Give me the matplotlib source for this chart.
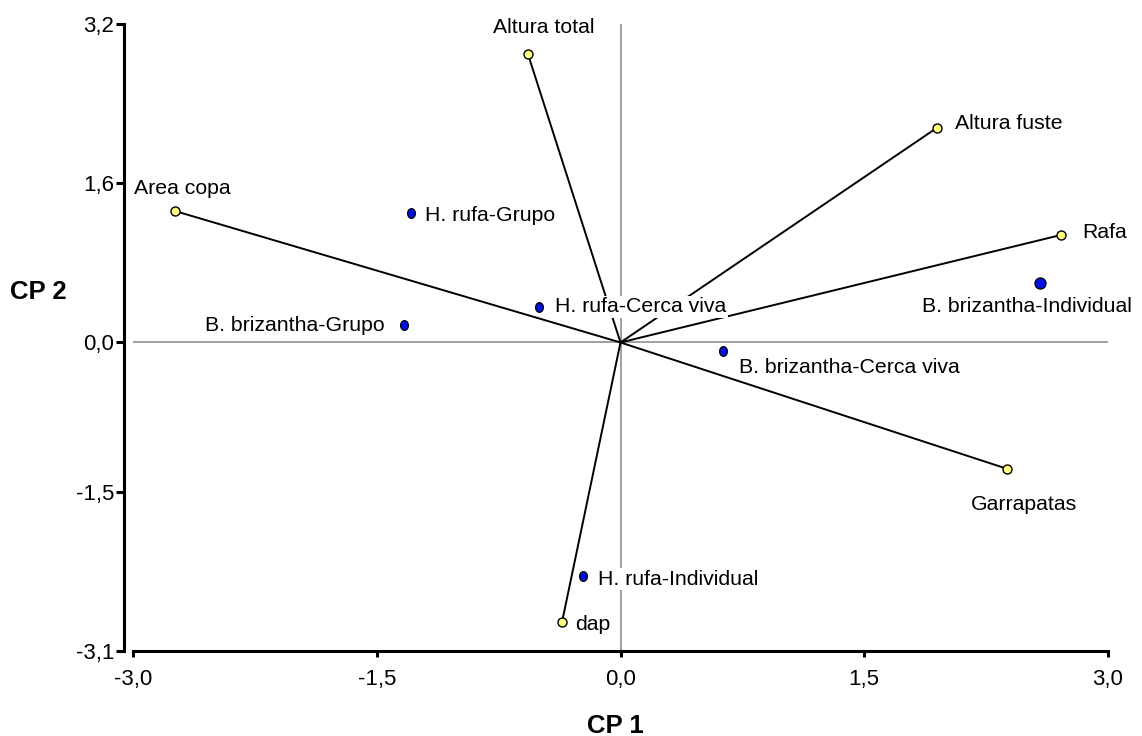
import matplotlib.pyplot as plt
from matplotlib.path import Path
from matplotlib.transforms import Affine2D

plt.rcParams['font.family'] = ['Liberation Sans', 'DejaVu Sans']

# variables (vectors drawn from the origin)
var_names = ["Altura total", "Area copa", "Altura fuste", "Rafa", "Garrapatas", "dap"]
var_x = [-0.57, -2.74, 1.95, 2.71, 2.38, -0.36]
var_y = [2.90, 1.32, 2.16, 1.08, -1.27, -2.81]

# treatments
trt_names = ["H. rufa-Grupo", "H. rufa-Cerca viva", "B. brizantha-Grupo",
             "B. brizantha-Cerca viva", "B. brizantha-Individual", "H. rufa-Individual"]
trt_x = [-1.29, -0.50, -1.33, 0.63, 2.58, -0.23]
trt_y = [1.30, 0.36, 0.18, -0.09, 0.60, -2.35]

xticks = [-3.0, -1.5, 0.0, 1.5, 3.0]
yticks = [-3.1, -1.5, 0.0, 1.6, 3.2]

# label placement (offset in pixels, horizontal alignment)
var_lab = [((16, 26), 'center'), ((7, 23), 'center'), ((18, 4), 'left'),
           ((21, 2), 'left'), ((17, -36), 'center'), ((13, -2), 'left')]
trt_lab = [((14, -2), 'left'), ((16, 0), 'left'), ((-20, -1), 'right'),
           ((16, -16), 'left'), ((-13, -24), 'center'), ((15, -3), 'left')]

fig = plt.figure(figsize=(11.42, 7.36), dpi=100)
ax = fig.add_axes([133/1142, 1 - 651/736, (1108 - 133)/1142, (651 - 24)/736])

ax.axhline(0, color='#999999', lw=1.3, zorder=1)
ax.axvline(0, color='#999999', lw=1.3, zorder=1)

for x, y in zip(var_x, var_y):
    ax.plot([0, x], [0, y], color='black', lw=1.4, zorder=2)

ax.plot(var_x, var_y, 'o', ms=6.5, mfc='#ffff80', mec='black', mew=1.0, zorder=4, ls='none')

oval = Path.unit_circle().transformed(Affine2D().scale(0.8, 1.0))
small = [i for i in range(len(trt_names)) if trt_names[i] != "B. brizantha-Individual"]
ax.plot([trt_x[i] for i in small], [trt_y[i] for i in small], marker=oval, ms=7,
        mfc='#0010e0', mec='black', mew=0.9, ls='none', zorder=4)
big = trt_names.index("B. brizantha-Individual")
ax.plot(trt_x[big], trt_y[big], 'o', ms=8, mfc='#0010e0', mec='black', mew=0.9, zorder=4)

box = dict(facecolor='white', edgecolor='none', pad=1)
for names, xs, ys, labs in [(var_names, var_x, var_y, var_lab), (trt_names, trt_x, trt_y, trt_lab)]:
    for n, x, y, (off, ha) in zip(names, xs, ys, labs):
        ax.annotate(n, (x, y), xytext=off, textcoords='offset pixels', ha=ha, va='center',
                    fontsize=15.3, bbox=box, zorder=5)

ax.set_xlim(-3.0, 3.0)
ax.set_ylim(-3.1, 3.2)
ax.set_xticks(xticks)
ax.set_xticklabels([f"{t:.1f}".replace('.', ',') for t in xticks])
ax.set_yticks(yticks)
ax.set_yticklabels([f"{t:.1f}".replace('.', ',') for t in yticks])

for s in ['top', 'right']:
    ax.spines[s].set_visible(False)
ax.spines['left'].set_position(('outward', 6.5))
ax.spines['left'].set_linewidth(2.2)
ax.spines['bottom'].set_linewidth(2.2)
ax.tick_params(axis='y', length=6, width=2.2, pad=1, labelsize=16)
ax.tick_params(axis='x', length=4.3, width=2.2, pad=9, labelsize=16)

fig.text(615/1142, 1 - 726/736, "CP 1", ha='center', va='center', fontsize=18.5, fontweight='bold')
fig.text(38/1142, 1 - 292/736, "CP 2", ha='center', va='center', fontsize=18.5, fontweight='bold')

fig.savefig('out.png', dpi=100)
